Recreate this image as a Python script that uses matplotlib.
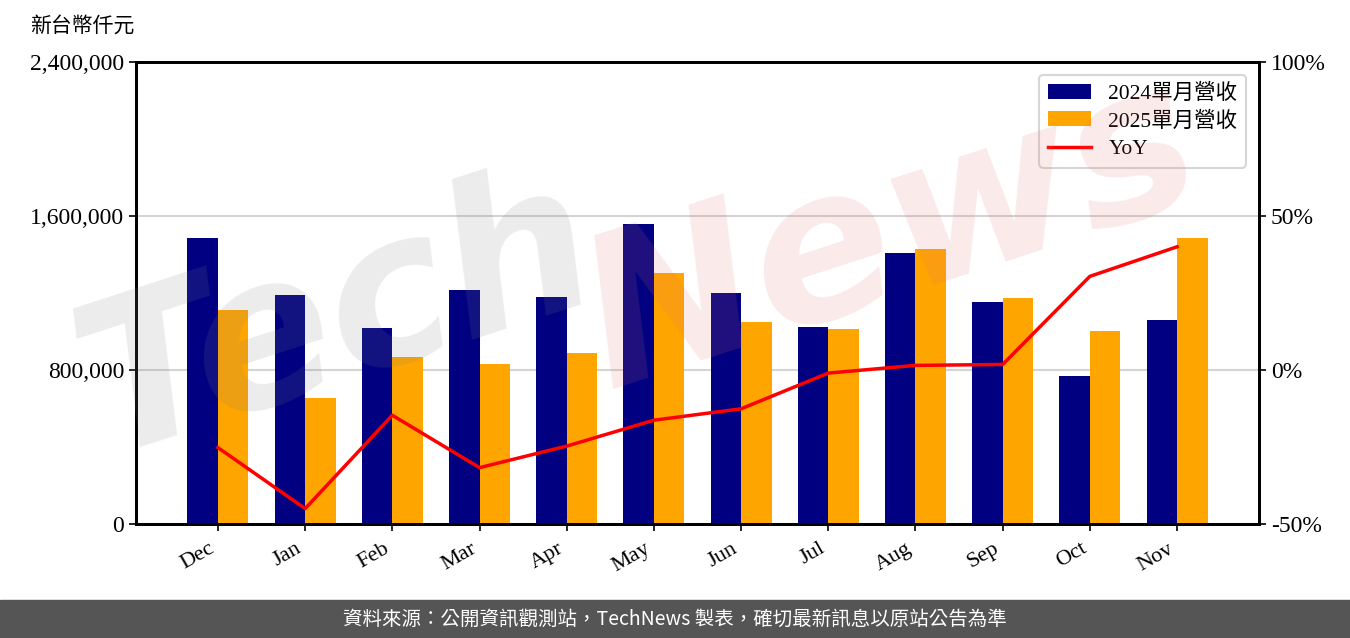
import matplotlib
matplotlib.use("Agg")
import matplotlib.pyplot as plt
import numpy as np
from matplotlib.ticker import FuncFormatter

plt.rcParams['font.family'] = ['Liberation Serif', 'Noto Sans CJK TC']

# data (NT$ thousand)
months = ['Dec', 'Jan', 'Feb', 'Mar', 'Apr', 'May', 'Jun', 'Jul', 'Aug', 'Sep', 'Oct', 'Nov']
rev_2024 = [1486000, 1190000, 1018000, 1216000, 1179000, 1558000,
            1200000, 1023000, 1408000, 1153000, 769000, 1060000]
rev_2025 = [1112000, 655000, 868000, 831000, 888000, 1304000,
            1049000, 1013000, 1429000, 1174000, 1003000, 1486000]
yoy = [-25.2, -45.0, -14.7, -31.7, -24.7, -16.3,
       -12.6, -1.0, 1.5, 1.8, 30.4, 40.0]

fig = plt.figure(figsize=(13.5, 6.38), dpi=100)
ax = fig.add_axes([136 / 1350, 114 / 638, 1123 / 1350, 462 / 638])
ax2 = ax.twinx()

x = np.arange(len(months))
w = 0.35
b1 = ax.bar(x - w / 2, rev_2024, w, color='#000080', label='2024單月營收', zorder=2)
b2 = ax.bar(x + w / 2, rev_2025, w, color='#FFA500', label='2025單月營收', zorder=2)
ln, = ax2.plot(x, yoy, color='red', lw=2.5, label='YoY', zorder=3)

ax.set_xlim(-0.94, 11.94)
ax.set_ylim(0, 2400000)
ax.set_yticks([0, 800000, 1600000, 2400000])
ax.yaxis.set_major_formatter(FuncFormatter(lambda v, p: f'{int(v):,}'))
ax.grid(axis='y', color='#d4d4d4', lw=1.5, zorder=0)
ax.set_axisbelow(True)

ax2.set_ylim(-50, 100)
ax2.set_yticks([-50, 0, 50, 100])
ax2.yaxis.set_major_formatter(FuncFormatter(lambda v, p: f'{int(v)}%'))

ax.set_xticks(x)
ax.set_xticklabels(months, rotation=30, ha='right', fontsize=16)
ax.tick_params(axis='y', labelsize=17, width=1.2, length=5)
ax.tick_params(axis='x', width=1.2, length=5, pad=6)
ax2.tick_params(axis='y', labelsize=17, width=1.2, length=5)
for a in (ax, ax2):
    for s in a.spines.values():
        s.set_linewidth(2)

fig.text(30 / 1350, 1 - 27 / 638, '新台幣仟元', fontsize=15, va='center', ha='left')

leg = ax2.legend([b1, b2, ln], ['2024單月營收', '2025單月營收', 'YoY'],
                 loc='upper right', fontsize=15.5, frameon=True,
                 borderaxespad=0.6, handlelength=2.0, handletextpad=0.8,
                 labelspacing=0.35)
leg.get_frame().set_edgecolor('#cccccc')
leg.get_frame().set_linewidth(1.5)

# watermark
fig.text(0.25, 0.50, 'Tech', fontsize=150, fontweight='bold', fontstyle='italic',
         family='DejaVu Sans', color='#808080', alpha=0.15, rotation=18,
         ha='center', va='center', zorder=10)
fig.text(0.66, 0.63, 'News', fontsize=150, fontweight='bold', fontstyle='italic',
         family='DejaVu Sans', color='#e07070', alpha=0.15, rotation=18,
         ha='center', va='center', zorder=10)

# footer band
fig.patches.append(plt.Rectangle((0, 0), 1, 38 / 638, transform=fig.transFigure,
                                 color='#555555', zorder=0))
fig.text(0.5, 19 / 638, '資料來源：公開資訊觀測站，TechNews 製表，確切最新訊息以原站公告為準',
         family=['Noto Sans CJK TC', 'DejaVu Sans'], color='white', fontsize=14,
         ha='center', va='center')

fig.savefig('out.png', dpi=100)
